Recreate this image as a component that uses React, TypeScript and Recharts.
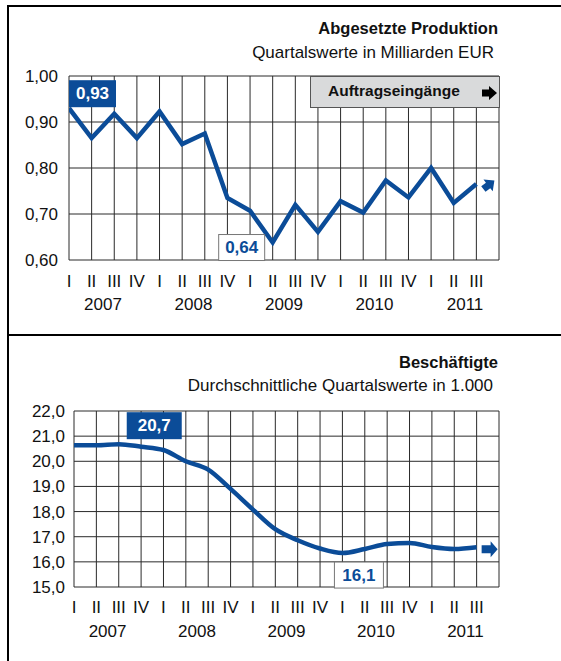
import React from "react";
import {
  LineChart, Line, XAxis, YAxis, CartesianGrid, ReferenceDot,
} from "recharts";

const quarters = [
  "I", "II", "III", "IV", "I", "II", "III", "IV", "I", "II",
  "III", "IV", "I", "II", "III", "IV", "I", "II", "III",
];
const years = ["2007", "2008", "2009", "2010", "2011"];

// Abgesetzte Produktion, Mrd EUR
const produktion = [
  0.93, 0.865, 0.918, 0.865, 0.923, 0.852, 0.875, 0.735, 0.707, 0.638,
  0.72, 0.661, 0.728, 0.703, 0.773, 0.736, 0.80, 0.724, 0.765,
];
const produktionTicks = [0.6, 0.7, 0.8, 0.9, 1.0];

// Beschäftigte, in 1.000
const beschaeftigte = [
  20.64, 20.64, 20.68, 20.58, 20.45, 20.0, 19.67, 18.9, 18.08, 17.3,
  16.86, 16.53, 16.35, 16.51, 16.71, 16.75, 16.59, 16.51, 16.58,
];
const beschaeftigteTicks = [15, 16, 17, 18, 19, 20, 21, 22];

const BLUE = "#0b4c98";
const FONT = "'Liberation Sans', Arial, sans-serif";

const gridTicks = Array.from({ length: quarters.length + 1 }, (_, i) => i);
const yearTicks = years.map((_, k) => k * 4 + 1.5);

const toData = (vals: number[]) => quarters.map((q, i) => ({ i, q, v: vals[i] }));

const fmt = (d: number) => (v: number) => v.toFixed(d).replace(".", ",");

function DarkBox({ cx, cy, dx, dy, w, h, text }: any) {
  return (
    <g>
      <rect x={cx + dx} y={cy + dy} width={w} height={h} fill={BLUE} />
      <text x={cx + dx + w / 2} y={cy + dy + h / 2} textAnchor="middle" dominantBaseline="central"
        fill="#fff" fontWeight="bold" fontSize={17} fontFamily={FONT}>{text}</text>
    </g>
  );
}

function LightBox({ cx, cy, dx, dy, w, h, text }: any) {
  return (
    <g>
      <rect x={cx + dx} y={cy + dy} width={w} height={h} fill="#fff" stroke="#777" strokeWidth={1} />
      <text x={cx + dx + w / 2} y={cy + dy + h / 2} textAnchor="middle" dominantBaseline="central"
        fill={BLUE} fontWeight="bold" fontSize={17} fontFamily={FONT}>{text}</text>
    </g>
  );
}

function Panel({ data, domain, ticks, decimals, width, height, left, tickY, yearY, marks }: any) {
  return (
    <LineChart width={width} height={height} data={data}
      margin={{ top: 76, right: 62, bottom: 0, left: 0 }}>
      <CartesianGrid stroke="#2a2a2a" strokeWidth={1} />
      <XAxis dataKey="i" type="number" domain={[0, quarters.length]} ticks={gridTicks}
        allowDataOverflow interval={0} axisLine={false} tickLine={false} tickSize={0} height={30}
        tick={(p: any) => (
          <text x={p.x} y={p.y + tickY} textAnchor="middle" dominantBaseline="central"
            fontSize={17} fontFamily={FONT} fill="#111">{quarters[p.payload.value] ?? ""}</text>
        )} />
      <XAxis xAxisId="yr" dataKey="i" type="number" domain={[0, quarters.length]} ticks={yearTicks}
        allowDataOverflow interval={0} axisLine={false} tickLine={false} tickSize={0} height={yearY}
        tick={(p: any) => (
          <text x={p.x} y={p.y + 12} textAnchor="middle" dominantBaseline="central"
            fontSize={17} fontFamily={FONT} fill="#111">{years[yearTicks.indexOf(p.payload.value)]}</text>
        )} />
      <YAxis type="number" domain={domain} ticks={ticks} width={left} interval={0}
        axisLine={false} tickLine={false} tickSize={0} tickMargin={left === 69 ? 11 : 9}
        tickFormatter={fmt(decimals)}
        tick={{ fontSize: 17, fill: "#111", fontFamily: FONT }} />
      <Line type={decimals === 2 ? "linear" : "monotone"} dataKey="v" stroke={BLUE}
        strokeWidth={4.5} dot={false} isAnimationActive={false} />
      {marks}
    </LineChart>
  );
}

export default function App() {
  const top = toData(produktion);
  const bottom = toData(beschaeftigte);
  const last = quarters.length - 1;
  const minIdx = produktion.indexOf(Math.min(...produktion));
  const maxB = beschaeftigte.indexOf(Math.max(...beschaeftigte));
  const minB = beschaeftigte.indexOf(Math.min(...beschaeftigte));

  return (
    <div style={{ position: "absolute", left: 0, top: 0, width: 561, height: 661, background: "#fff", fontFamily: FONT, overflow: "hidden" }}>
      <div style={{ position: "absolute", left: 7, top: 5, width: 560, height: 660, borderTop: "2px solid #000", borderLeft: "2px solid #000" }} />
      <div style={{ position: "absolute", left: 7, top: 334, width: 560, height: 2, background: "#000" }} />

      <div style={{ position: "absolute", right: 63, top: 19, fontWeight: "bold", fontSize: 16.5, color: "#111" }}>Abgesetzte Produktion</div>
      <div style={{ position: "absolute", right: 67, top: 43, fontSize: 17, color: "#111" }}>Quartalswerte in Milliarden EUR</div>

      <div style={{ position: "absolute", left: 0, top: 0 }}>
        <Panel data={top} domain={[0.6, 1.0]} ticks={produktionTicks} decimals={2}
          width={561} height={330} left={69} tickY={19} yearY={40}
          marks={[
            <ReferenceDot key="max" x={0} y={produktion[0]} r={0}
              shape={(p: any) => <DarkBox cx={p.cx} cy={p.cy} dx={0} dy={-28} w={47} h={27} text={fmt(2)(produktion[0])} />} />,
            <ReferenceDot key="min" x={minIdx} y={produktion[minIdx]} r={0}
              shape={(p: any) => <LightBox cx={p.cx} cy={p.cy} dx={-54} dy={-8} w={46} h={26} text={fmt(2)(produktion[minIdx])} />} />,
            <ReferenceDot key="arr" x={last} y={produktion[last]} r={0}
              shape={(p: any) => (
                <polygon transform={`translate(${p.cx + 7},${p.cy + 5}) rotate(-38)`}
                  points="0,-3.5 6,-3.5 6,-7.5 14,0 6,7.5 6,3.5 0,3.5" fill={BLUE} />
              )} />,
          ]} />
      </div>

      <div style={{ position: "absolute", left: 310, top: 76, width: 190, height: 32, boxSizing: "border-box", background: "#d9dadb", border: "1px solid #555" }}>
        <span style={{ position: "absolute", left: 17, top: 5, fontWeight: "bold", fontSize: 15.5, color: "#111" }}>Auftragseingänge</span>
        <svg style={{ position: "absolute", left: 171, top: 8 }} width={16} height={16}>
          <polygon transform="translate(0,8)" points="0,-3.5 7,-3.5 7,-7 15,0 7,7 7,3.5 0,3.5" fill="#000" />
        </svg>
      </div>

      <div style={{ position: "absolute", right: 63, top: 353, fontWeight: "bold", fontSize: 16.5, color: "#111" }}>Beschäftigte</div>
      <div style={{ position: "absolute", right: 68, top: 376, fontSize: 17, color: "#111" }}>Durchschnittliche Quartalswerte in 1.000</div>

      <div style={{ position: "absolute", left: 0, top: 335 }}>
        <Panel data={bottom} domain={[15, 22]} ticks={beschaeftigteTicks} decimals={1}
          width={561} height={326} left={74} tickY={18} yearY={44}
          marks={[
            <ReferenceDot key="max" x={maxB} y={beschaeftigte[maxB]} r={0}
              shape={(p: any) => <DarkBox cx={p.cx} cy={p.cy} dx={8} dy={-32} w={55} h={27} text="20,7" />} />,
            <ReferenceDot key="min" x={minB} y={beschaeftigte[minB]} r={0}
              shape={(p: any) => <LightBox cx={p.cx} cy={p.cy} dx={-8} dy={9} w={49} h={26} text="16,1" />} />,
            <ReferenceDot key="arr" x={last} y={beschaeftigte[last]} r={0}
              shape={(p: any) => (
                <polygon transform={`translate(${p.cx + 5},${p.cy + 2})`}
                  points="0,-4 9,-4 9,-8 16,0 9,8 9,4 0,4" fill={BLUE} />
              )} />,
          ]} />
      </div>
    </div>
  );
}
